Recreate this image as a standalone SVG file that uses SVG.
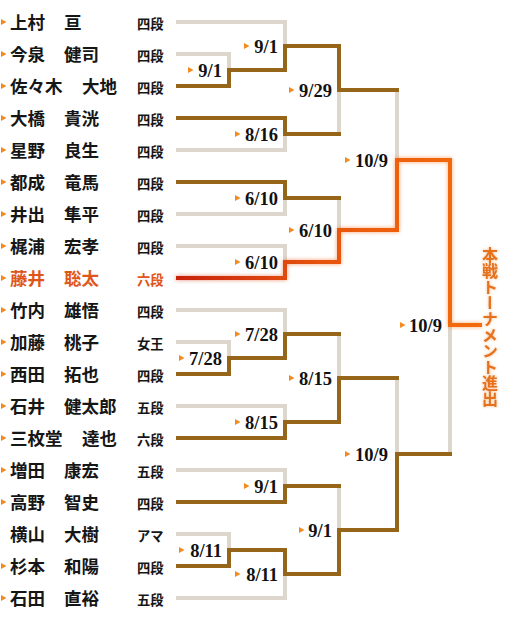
<svg xmlns="http://www.w3.org/2000/svg" xmlns:xlink="http://www.w3.org/1999/xlink" width="516" height="620" viewBox="0 0 516 620">
<style>
.nm{font-family:"Noto Sans CJK JP","Noto Sans CJK SC",sans-serif;font-size:17.5px;font-weight:bold;fill:#161616}
.rk{font-family:"Noto Sans CJK JP","Noto Sans CJK SC",sans-serif;font-size:13.3px;font-weight:bold;fill:#161616}
.hi{fill:#e0561a}
.dt{font-family:"Liberation Serif","Times New Roman",serif;font-size:18.5px;font-weight:bold;fill:#111;text-anchor:end}
.lt{fill:none;stroke:#ddd6cc;stroke-width:4;stroke-linejoin:miter}
.br{fill:none;stroke:#956619;stroke-width:4;stroke-linejoin:miter}
.win{fill:none;stroke:url(#rg);stroke-width:4;stroke-linejoin:miter;filter:url(#glow)}
.vt{font-family:"Noto Sans CJK JP","Noto Sans CJK SC",sans-serif;font-size:16px;font-weight:bold;fill:#e6711c;writing-mode:vertical-rl;filter:url(#glow2)}
</style>
<defs>
<path id="tri" d="M0 -3 L5.5 0 L0 3 Z" fill="#f48a1e"/>
<linearGradient id="rg" gradientUnits="userSpaceOnUse" x1="176" y1="0" x2="482" y2="0">
<stop offset="0" stop-color="#c8220c"/>
<stop offset="0.36" stop-color="#df4a10"/>
<stop offset="0.6" stop-color="#ec5c10"/>
<stop offset="1" stop-color="#f46c0e"/>
</linearGradient>
<filter id="glow" filterUnits="userSpaceOnUse" x="0" y="0" width="516" height="620">
<feGaussianBlur in="SourceGraphic" stdDeviation="2.2" result="b"/>
<feComponentTransfer in="b" result="b2"><feFuncA type="linear" slope="0.55"/></feComponentTransfer>
<feMerge><feMergeNode in="b2"/><feMergeNode in="SourceGraphic"/></feMerge>
</filter>
<filter id="glow2" filterUnits="userSpaceOnUse" x="460" y="230" width="56" height="200">
<feGaussianBlur in="SourceGraphic" stdDeviation="1.6" result="b"/>
<feComponentTransfer in="b" result="b2"><feFuncA type="linear" slope="0.5"/></feComponentTransfer>
<feMerge><feMergeNode in="b2"/><feMergeNode in="SourceGraphic"/></feMerge>
</filter>
</defs>
<rect width="516" height="620" fill="#fff"/>

<g id="connectors">
<path class="lt" d="M176 54 H229 V86 H176"/>
<path class="lt" d="M176 22 H285 V70 H229"/>
<path class="lt" d="M176 118 H285 V150 H176"/>
<path class="lt" d="M285 46 H339 V134 H285"/>
<path class="lt" d="M176 182 H285 V214 H176"/>
<path class="lt" d="M176 246 H285 V278 H176"/>
<path class="lt" d="M285 198 H339 V262 H285"/>
<path class="lt" d="M339 90 H397 V230 H339"/>
<path class="lt" d="M176 342 H229 V374 H176"/>
<path class="lt" d="M176 310 H285 V358 H229"/>
<path class="lt" d="M176 406 H285 V438 H176"/>
<path class="lt" d="M285 334 H339 V422 H285"/>
<path class="lt" d="M176 470 H285 V502 H176"/>
<path class="lt" d="M176 534 H229 V566 H176"/>
<path class="lt" d="M229 550 H285 V598 H176"/>
<path class="lt" d="M285 486 H339 V574 H285"/>
<path class="lt" d="M339 378 H397 V530 H339"/>
<path class="lt" d="M397 160 H450 V454 H397"/>
<path class="br" d="M176 86 H229 V70 H285 V46 H339 V90 H399"/>
<path class="br" d="M176 118 H285 V134 H341"/>
<path class="br" d="M176 182 H285 V198 H341"/>
<path class="br" d="M176 374 H229 V358 H285 V334 H341"/>
<path class="br" d="M176 438 H285 V422 H339 V378 H399"/>
<path class="br" d="M176 502 H285 V486 H341"/>
<path class="br" d="M176 566 H229 V550 H285 V574 H339 V530 H397 V454 H452"/>
<path class="win" d="M176 278 H285 V262 H339 V230 H397 V160 H450 V325 H482"/>
</g>

<g id="dates">
<use href="#tri" x="188" y="70"/><text class="dt" x="222" y="76.5">9/1</text>
<use href="#tri" x="244" y="46"/><text class="dt" x="278" y="52.5">9/1</text>
<use href="#tri" x="235" y="134"/><text class="dt" x="278" y="140.5">8/16</text>
<use href="#tri" x="289" y="90"/><text class="dt" x="332" y="96.5">9/29</text>
<use href="#tri" x="235" y="198"/><text class="dt" x="278" y="204.5">6/10</text>
<use href="#tri" x="235" y="262"/><text class="dt" x="278" y="268.5">6/10</text>
<use href="#tri" x="289" y="230"/><text class="dt" x="332" y="236.5">6/10</text>
<use href="#tri" x="345" y="160"/><text class="dt" x="388" y="166.5">10/9</text>
<use href="#tri" x="179" y="358"/><text class="dt" x="222" y="364.5">7/28</text>
<use href="#tri" x="235" y="334"/><text class="dt" x="278" y="340.5">7/28</text>
<use href="#tri" x="235" y="422"/><text class="dt" x="278" y="428.5">8/15</text>
<use href="#tri" x="289" y="378"/><text class="dt" x="332" y="384.5">8/15</text>
<use href="#tri" x="244" y="486"/><text class="dt" x="278" y="492.5">9/1</text>
<use href="#tri" x="179" y="550"/><text class="dt" x="222" y="556.5">8/11</text>
<use href="#tri" x="235" y="574"/><text class="dt" x="278" y="580.5">8/11</text>
<use href="#tri" x="299" y="530"/><text class="dt" x="332" y="536.5">9/1</text>
<use href="#tri" x="345" y="454"/><text class="dt" x="388" y="460.5">10/9</text>
<use href="#tri" x="400" y="325"/><text class="dt" x="442" y="331.5">10/9</text>
</g>

<g id="p1"><use href="#tri" x="1" y="22"/><text class="nm" x="10" y="28.5">上村</text><text class="nm" x="64" y="28.5">亘</text><text class="rk" x="137" y="28.5">四段</text></g>
<g id="p2"><use href="#tri" x="1" y="54"/><text class="nm" x="10" y="60.5">今泉</text><text class="nm" x="64" y="60.5">健司</text><text class="rk" x="137" y="60.5">四段</text></g>
<g id="p3"><use href="#tri" x="1" y="86"/><text class="nm" x="10" y="92.5">佐々木</text><text class="nm" x="82" y="92.5">大地</text><text class="rk" x="137" y="92.5">四段</text></g>
<g id="p4"><use href="#tri" x="1" y="118"/><text class="nm" x="10" y="124.5">大橋</text><text class="nm" x="64" y="124.5">貴洸</text><text class="rk" x="137" y="124.5">四段</text></g>
<g id="p5"><use href="#tri" x="1" y="150"/><text class="nm" x="10" y="156.5">星野</text><text class="nm" x="64" y="156.5">良生</text><text class="rk" x="137" y="156.5">四段</text></g>
<g id="p6"><use href="#tri" x="1" y="182"/><text class="nm" x="10" y="188.5">都成</text><text class="nm" x="64" y="188.5">竜馬</text><text class="rk" x="137" y="188.5">四段</text></g>
<g id="p7"><use href="#tri" x="1" y="214"/><text class="nm" x="10" y="220.5">井出</text><text class="nm" x="64" y="220.5">隼平</text><text class="rk" x="137" y="220.5">四段</text></g>
<g id="p8"><use href="#tri" x="1" y="246"/><text class="nm" x="10" y="252.5">梶浦</text><text class="nm" x="64" y="252.5">宏孝</text><text class="rk" x="137" y="252.5">四段</text></g>
<g id="p9"><use href="#tri" x="1" y="278"/><text class="nm hi" x="10" y="284.5">藤井</text><text class="nm hi" x="64" y="284.5">聡太</text><text class="rk hi" x="137" y="284.5">六段</text></g>
<g id="p10"><use href="#tri" x="1" y="310"/><text class="nm" x="10" y="316.5">竹内</text><text class="nm" x="64" y="316.5">雄悟</text><text class="rk" x="137" y="316.5">四段</text></g>
<g id="p11"><use href="#tri" x="1" y="342"/><text class="nm" x="10" y="348.5">加藤</text><text class="nm" x="64" y="348.5">桃子</text><text class="rk" x="137" y="348.5">女王</text></g>
<g id="p12"><use href="#tri" x="1" y="374"/><text class="nm" x="10" y="380.5">西田</text><text class="nm" x="64" y="380.5">拓也</text><text class="rk" x="137" y="380.5">四段</text></g>
<g id="p13"><use href="#tri" x="1" y="406"/><text class="nm" x="10" y="412.5">石井</text><text class="nm" x="64" y="412.5">健太郎</text><text class="rk" x="137" y="412.5">五段</text></g>
<g id="p14"><use href="#tri" x="1" y="438"/><text class="nm" x="10" y="444.5">三枚堂</text><text class="nm" x="82" y="444.5">達也</text><text class="rk" x="137" y="444.5">六段</text></g>
<g id="p15"><use href="#tri" x="1" y="470"/><text class="nm" x="10" y="476.5">増田</text><text class="nm" x="64" y="476.5">康宏</text><text class="rk" x="137" y="476.5">五段</text></g>
<g id="p16"><use href="#tri" x="1" y="502"/><text class="nm" x="10" y="508.5">高野</text><text class="nm" x="64" y="508.5">智史</text><text class="rk" x="137" y="508.5">四段</text></g>
<g id="p17"><text class="nm" x="10" y="540.5">横山</text><text class="nm" x="64" y="540.5">大樹</text><text class="rk" x="137" y="540.5">アマ</text></g>
<g id="p18"><use href="#tri" x="1" y="566"/><text class="nm" x="10" y="572.5">杉本</text><text class="nm" x="64" y="572.5">和陽</text><text class="rk" x="137" y="572.5">四段</text></g>
<g id="p19"><use href="#tri" x="1" y="598"/><text class="nm" x="10" y="604.5">石田</text><text class="nm" x="64" y="604.5">直裕</text><text class="rk" x="137" y="604.5">五段</text></g>

<g id="advance"><text class="vt" x="490" y="247">本戦トーナメント進出</text></g>
</svg>
